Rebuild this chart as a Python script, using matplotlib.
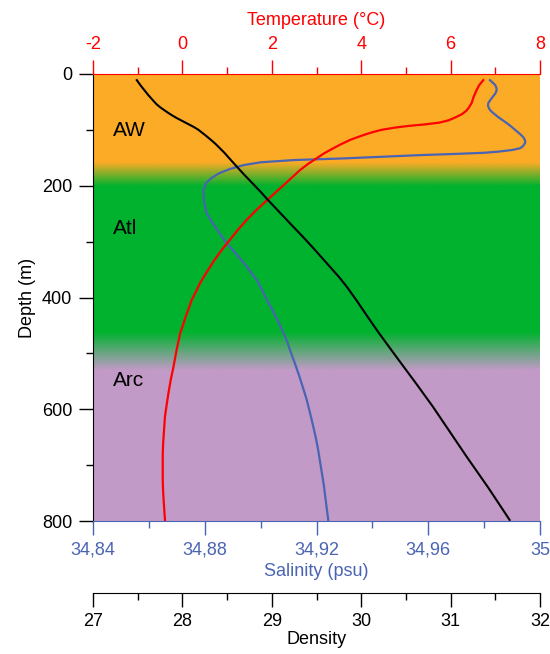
import numpy as np
import matplotlib
matplotlib.use("Agg")
import matplotlib.pyplot as plt
from matplotlib.ticker import MultipleLocator

plt.rcParams['font.family'] = ['Liberation Sans', 'DejaVu Sans']
plt.rcParams['font.size'] = 13
plt.rcParams['axes.unicode_minus'] = False

# data
dens_depth = [11, 20, 29, 38, 47, 54, 60, 65, 70, 75, 80, 85, 90, 95, 100, 105, 110, 118, 125,
              133, 141, 150, 158, 166, 180, 195, 210, 226, 248, 270, 290, 309, 327, 345, 363,
              381, 408, 434, 464, 512, 553, 595, 640, 685, 740, 798]
dens_val = [27.49, 27.53, 27.575, 27.62, 27.67, 27.71, 27.755, 27.80, 27.845, 27.895, 27.95,
            28.01, 28.07, 28.13, 28.18, 28.22, 28.26, 28.32, 28.37, 28.42, 28.47, 28.52, 28.565,
            28.61, 28.69, 28.78, 28.87, 28.96, 29.09, 29.22, 29.34, 29.45, 29.55, 29.65, 29.75,
            29.84, 29.96, 30.07, 30.20, 30.42, 30.61, 30.80, 30.99, 31.18, 31.42, 31.66]

temp_depth = [11, 20, 29, 40, 52, 60, 66, 72, 78, 83, 87, 90, 93, 96, 100, 104, 108, 113, 118,
              126, 134, 142, 151, 161, 172, 186, 200, 213, 226, 243, 260, 278, 297, 316, 335, 355,
              375, 390, 404, 420, 435, 450, 464, 494, 524, 547, 570, 591, 613, 636, 660, 681, 703,
              727, 750, 775, 798]
temp_val = [6.73, 6.64, 6.58, 6.52, 6.47, 6.41, 6.35, 6.25, 6.10, 5.95, 5.75, 5.45, 5.05, 4.75,
            4.45, 4.26, 4.10, 3.92, 3.75, 3.54, 3.35, 3.17, 3.00, 2.81, 2.63, 2.44, 2.25, 2.07,
            1.89, 1.66, 1.45, 1.25, 1.06, 0.87, 0.70, 0.54, 0.39, 0.30, 0.21, 0.14, 0.07, 0.01,
            -0.05, -0.13, -0.20, -0.26, -0.31, -0.35, -0.39, -0.41, -0.43, -0.44, -0.44, -0.44,
            -0.43, -0.41, -0.39]

sal_depth = [11, 16, 20, 25, 29, 35, 40, 46, 52, 57, 62, 66, 70, 77, 84, 90, 97, 103, 108, 113,
             118, 123, 127, 130, 133, 136, 139, 141, 143, 145, 148, 151, 154, 158, 163, 170, 178,
             186, 195, 208, 225, 237, 249, 262, 275, 289, 303, 319, 335, 352, 369, 386, 404, 422,
             440, 458, 476, 494, 517, 540, 562, 583, 607, 630, 652, 673, 704, 735, 767, 798]
sal_val = [34.9821, 34.9832, 34.9840, 34.9844, 34.9845, 34.9840, 34.9832, 34.9823, 34.9815,
           34.9814, 34.9818, 34.9824, 34.9833, 34.9850, 34.9870, 34.9887, 34.9904, 34.9918,
           34.9930, 34.9940, 34.9946, 34.9947, 34.9942, 34.9937, 34.9928, 34.9900, 34.9850,
           34.9800, 34.9700, 34.9580, 34.9440, 34.9300, 34.9120, 34.9000, 34.8940, 34.8890,
           34.8850, 34.8825, 34.8805, 34.8795, 34.8797, 34.8801, 34.8807, 34.8822, 34.8840,
           34.8858, 34.8879, 34.8907, 34.8935, 34.8961, 34.8986, 34.9005, 34.9022, 34.9042,
           34.9060, 34.9077, 34.9093, 34.9105, 34.9122, 34.9138, 34.9152, 34.9165, 34.9177,
           34.9188, 34.9198, 34.9206, 34.9216, 34.9226, 34.9234, 34.9242]

sal_ticks = [34.84, 34.88, 34.92, 34.96, 35.0]
sal_labels = ["34,84", "34,88", "34,92", "34,96", "35"]
temp_ticks = [-2, 0, 2, 4, 6, 8]
dens_ticks = [27, 28, 29, 30, 31, 32]
depth_ticks = [0, 200, 400, 600, 800]

water_names = ["AW", "Atl", "Arc"]
water_depths = [102, 276, 548]

RED = '#ff0000'
BLUE = '#4a64b4'

# background bands: (depth, colour) stops
stops_d = [0, 158, 200, 462, 530, 800]
stops_c = ['#fbab26', '#fbab26', '#00b22e', '#00b22e', '#c29ac7', '#c29ac7']
rgb = np.array([matplotlib.colors.to_rgb(c) for c in stops_c])
dd = np.arange(0, 801)
bg = np.stack([np.interp(dd, stops_d, rgb[:, k]) for k in range(3)], axis=1)[:, None, :]

fig = plt.figure(figsize=(5.5, 6.54), dpi=100)
ax = fig.add_axes([93/550, 1-521/654, 447/550, 447/654])
ax.imshow(bg, extent=[34.84, 35.0, 800, 0], aspect='auto', interpolation='bilinear', zorder=0)
ax.set_xlim(34.84, 35.0)
ax.set_ylim(800, 0)

axT = ax.twiny()
axT.set_xlim(-2, 8)
axD = ax.twiny()
axD.set_xlim(27, 32)

ax.plot(sal_val, sal_depth, color=BLUE, lw=1.6, solid_joinstyle='round')
axT.plot(temp_val, temp_depth, color=RED, lw=1.6, solid_joinstyle='round')
axD.plot(dens_val, dens_depth, color='black', lw=1.5, solid_joinstyle='round')

for name, d in zip(water_names, water_depths):
    ax.text(0.045, d, name, transform=ax.get_yaxis_transform(), fontsize=15, va='center')

# salinity / depth axes
for s in ['top', 'right']:
    ax.spines[s].set_visible(False)
ax.spines['bottom'].set_color(BLUE)
ax.spines['left'].set_color('black')
ax.set_xticks(sal_ticks)
ax.set_xticklabels(sal_labels)
ax.xaxis.set_minor_locator(MultipleLocator(0.02))
ax.set_yticks(depth_ticks)
ax.yaxis.set_minor_locator(MultipleLocator(100))
ax.tick_params(axis='x', which='both', colors=BLUE, direction='out')
ax.tick_params(axis='both', which='major', length=10, width=1, pad=5)
ax.tick_params(axis='both', which='minor', length=5, width=1)
ax.set_xlabel("Salinity (psu)", color=BLUE, labelpad=3)
ax.set_ylabel("Depth (m)", labelpad=4)

# temperature axis
for s in ['bottom', 'left', 'right']:
    axT.spines[s].set_visible(False)
axT.spines['top'].set_color(RED)
axT.set_xticks(temp_ticks)
axT.xaxis.set_minor_locator(MultipleLocator(1))
axT.tick_params(axis='x', which='both', colors=RED)
axT.tick_params(axis='x', which='major', length=10, width=1, pad=5)
axT.tick_params(axis='x', which='minor', length=5, width=1)
axT.set_xlabel("Temperature (°C)", color=RED, labelpad=8)

# density axis below
for s in ['top', 'left', 'right']:
    axD.spines[s].set_visible(False)
axD.xaxis.set_ticks_position('bottom')
axD.xaxis.set_label_position('bottom')
axD.spines['bottom'].set_position(('outward', 52))
axD.set_xticks(dens_ticks)
axD.xaxis.set_minor_locator(MultipleLocator(0.5))
axD.tick_params(axis='x', which='major', length=10, width=1, pad=4)
axD.tick_params(axis='x', which='minor', length=5, width=1)
axD.set_xlabel("Density", labelpad=1)

fig.savefig("out.png", dpi=100)
